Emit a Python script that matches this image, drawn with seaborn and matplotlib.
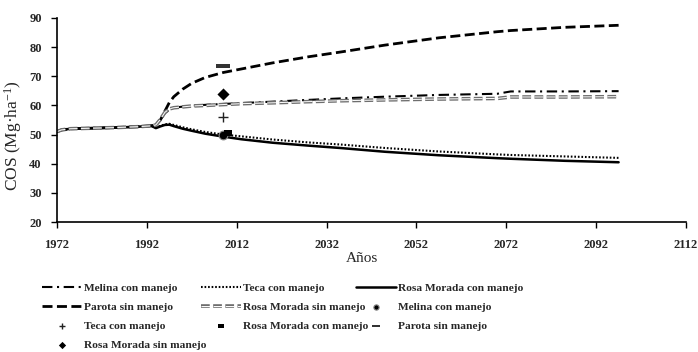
import matplotlib
matplotlib.use("Agg")
import matplotlib.pyplot as plt
import matplotlib.patheffects as pe
from matplotlib.path import Path
import seaborn as sns

# Simulated soil organic carbon (COS) trajectories, Mg/ha
years = [1972, 1973, 1975, 1980, 1985, 1990, 1993, 1994, 1995, 1996, 1997, 1998,
         2000, 2002, 2005, 2009, 2013, 2020, 2028, 2035, 2045, 2057, 2070, 2073,
         2085, 2097]

melina_cm = [51.0, 51.6, 52.0, 52.2, 52.4, 52.7, 53.0, 53.3, 55.0, 57.3, 58.6, 59.2,
             59.6, 59.9, 60.2, 60.5, 60.8, 61.3, 61.9, 62.4, 63.0, 63.6, 64.0, 64.8,
             64.8, 64.9]
teca_cm = [51.0, 51.6, 52.0, 52.2, 52.4, 52.7, 53.0, 52.4, 53.0, 53.5, 53.7, 53.3,
           52.5, 51.8, 50.9, 50.0, 49.4, 48.3, 47.3, 46.6, 45.4, 44.2, 43.2, 43.0,
           42.5, 42.0]
rosa_cm = [51.0, 51.6, 52.0, 52.2, 52.4, 52.7, 53.0, 52.2, 52.8, 53.3, 53.4, 52.9,
           52.0, 51.3, 50.3, 49.3, 48.4, 47.2, 46.2, 45.4, 44.1, 42.9, 41.9, 41.7,
           41.0, 40.5]
parota_sm = [51.0, 51.6, 52.0, 52.2, 52.4, 52.7, 53.0, 53.3, 55.0, 58.0, 61.0, 63.0,
             65.6, 67.6, 69.6, 71.3, 72.5, 74.6, 76.7, 78.3, 80.7, 83.2, 85.3, 85.7,
             86.8, 87.5]
rosa_sm = [51.0, 51.6, 52.0, 52.2, 52.4, 52.7, 53.0, 53.3, 55.2, 57.6, 58.8, 59.2,
           59.5, 59.8, 60.0, 60.3, 60.6, 60.9, 61.3, 61.6, 61.9, 62.2, 62.4, 62.9,
           62.9, 63.0]

# Field measurements
obs_labels = ["Melina con manejo", "Teca con manejo", "Rosa Morada con manejo",
              "Parota sin manejo", "Rosa Morada sin manejo"]
obs_years = [2009, 2009, 2010, 2009, 2009]
obs_values = [50.0, 56.0, 50.4, 73.4, 64.0]

x_ticks = [1972, 1992, 2012, 2032, 2052, 2072, 2092, 2112]
y_ticks = [20, 30, 40, 50, 60, 70, 80, 90]

sns.set_style("ticks")
plt.rcParams["font.family"] = ["Liberation Serif", "DejaVu Serif"]
plt.rcParams["mathtext.default"] = "regular"

fig = plt.figure(figsize=(6.98, 3.52), dpi=100)
ax = fig.add_axes([57 / 698, 1 - 222 / 352, (686 - 57) / 698, (222 - 18) / 352])

sns.lineplot(x=years, y=melina_cm, ax=ax, color="black", lw=1.5,
             linestyle=(0, (5, 2.2, 1, 2.2)), label="Melina con manejo")
sns.lineplot(x=years, y=teca_cm, ax=ax, color="black", lw=1.5,
             linestyle=(0, (0.8, 0.9)), label="Teca con manejo")
sns.lineplot(x=years, y=rosa_cm, ax=ax, color="black", lw=1.8,
             linestyle="-", label="Rosa Morada con manejo")
sns.lineplot(x=years, y=parota_sm, ax=ax, color="black", lw=2.0,
             linestyle=(0, (3.6, 1.6)), label="Parota sin manejo")
sns.lineplot(x=years, y=rosa_sm, ax=ax, color="white", lw=0.7,
             linestyle=(0, (9, 3.5)), label="Rosa Morada sin manejo",
             path_effects=[pe.Stroke(linewidth=2.6, foreground="#6e6e6e"), pe.Normal()])

bar = Path([(-1, -0.26), (1, -0.26), (1, 0.26), (-1, 0.26), (-1, -0.26)],
           [Path.MOVETO, Path.LINETO, Path.LINETO, Path.LINETO, Path.CLOSEPOLY])
block = Path([(-1, -0.75), (1, -0.75), (1, 0.75), (-1, 0.75), (-1, -0.75)],
             [Path.MOVETO, Path.LINETO, Path.LINETO, Path.LINETO, Path.CLOSEPOLY])
marker_styles = [
    dict(marker="o", s=40, color="black", edgecolor="#888888", linewidth=0.8),
    dict(marker="+", s=45, color="#222222", linewidth=1.0),
    dict(marker=block, s=38, color="black", linewidth=0),
    dict(marker=bar, s=110, color="#333333", linewidth=0),
    dict(marker="D", s=38, color="black", linewidth=0),
]
for lab, yr, val, st in zip(obs_labels, obs_years, obs_values, marker_styles):
    sns.scatterplot(x=[yr], y=[val], ax=ax, label=lab, zorder=5, **st)

if ax.get_legend() is not None:
    ax.get_legend().remove()

ax.set_xlim(1972, 2112)
ax.set_ylim(20, 90)
ax.set_xticks(x_ticks)
ax.set_yticks(y_ticks)
ax.tick_params(axis="both", direction="out", length=4, width=1, labelsize=9,
               color="black")
ax.tick_params(axis="x", pad=8)
ax.tick_params(axis="y", pad=7)
for lbl in ax.get_xticklabels() + ax.get_yticklabels():
    lbl.set_fontweight("bold")
for side in ["top", "right"]:
    ax.spines[side].set_visible(False)
for side in ["left", "bottom"]:
    ax.spines[side].set_linewidth(1.2)
    ax.spines[side].set_color("black")

ax.set_xlabel("Años", fontsize=11)
ax.set_ylabel("COS (Mg·ha$^{-1}$)", fontsize=12.5)
ax.xaxis.set_label_coords(0.485, -0.148)
ax.yaxis.set_label_coords(-0.053, 0.425)

handles, labels = ax.get_legend_handles_labels()
# Three legend columns, filled in row-major reading order
columns = [[0, 3, 6, 9], [1, 4, 7], [2, 5, 8]]
col_left = [42, 201, 356]
for idx, x0 in zip(columns, col_left):
    fig.legend([handles[i] for i in idx], [labels[i] for i in idx],
               loc="upper left", bbox_to_anchor=(x0 / 698, 1 - 283 / 352),
               ncol=1, frameon=False, handlelength=3.5, handletextpad=0.2,
               labelspacing=0.8, markerscale=0.6,
               prop={"weight": "bold", "size": 8.2}, borderaxespad=0, borderpad=0)

fig.savefig("out.png", dpi=100)
